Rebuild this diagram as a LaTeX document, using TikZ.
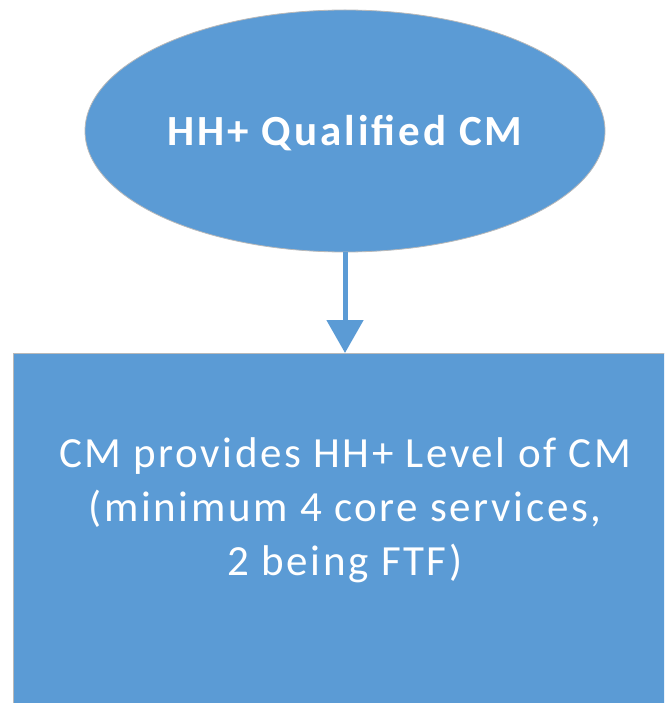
\documentclass[tikz,border=0pt]{standalone}
\usepackage{fontspec}
\setmainfont{Carlito}
\newfontfamily\boxfont[LetterSpace=6]{Carlito}
\newfontfamily\titlefont[LetterSpace=7]{Carlito}
\usetikzlibrary{shapes.geometric,arrows.meta,positioning}
\definecolor{officeblue}{HTML}{5B9BD5}
\tikzset{
  stage/.style={fill=officeblue, draw=gray!55, line width=0.8pt},
  flowarrow/.style={draw=officeblue, line width=5pt,
    -{Triangle[width=36pt,length=33pt]}},
  label text/.style={text=white, align=center, font=\boxfont\fontsize{43}{54}\selectfont}
}
\begin{document}
\begin{tikzpicture}[x=1pt,y=-1pt]
\useasboundingbox (0,0) rectangle (664,703);
\clip (0,0) rectangle (664,703);
\node[stage, ellipse, minimum width=520pt, minimum height=242pt, inner sep=0pt] (qualified) at (345,131) {};
\node[label text, font=\titlefont\fontsize{43}{50}\selectfont\bfseries] (qualifiedtext) at (345,133) {HH+ Qualified CM};
\node[stage, rectangle, minimum width=664pt, minimum height=420pt, anchor=north, inner sep=0pt] (provides) at (345,353) {};
\node[label text] (providestext) at (345,510) {CM provides HH+ Level of CM\\(minimum 4 core services,\\2 being FTF)};
\draw[flowarrow] (qualified.south) -- (provides.north);
\end{tikzpicture}
\end{document}
